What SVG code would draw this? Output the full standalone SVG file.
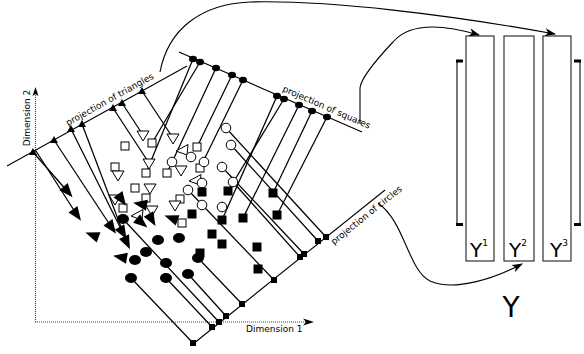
<svg xmlns="http://www.w3.org/2000/svg" width="584" height="354" viewBox="0 0 584 354">
<style>
.ln{stroke:#000;stroke-width:1.25;fill:none}
.ax{stroke:#000;stroke-width:1.1;fill:none}
.dot{stroke:#444;stroke-width:1.2;stroke-dasharray:1 1;fill:none}
.cv{stroke:#000;stroke-width:1.1;fill:none}
.osq{fill:#fff;stroke:#000;stroke-width:1}
.ocir{fill:#fff;stroke:#000;stroke-width:1}
.otri{fill:#fff;stroke:#000;stroke-width:1}
.f{fill:#000}
.lab{font-family:"DejaVu Sans",sans-serif;font-size:9px;fill:#000}
.box{fill:#fff;stroke:#333;stroke-width:1.2}
.br{stroke:#777;stroke-width:2;fill:none}
.Y{font-family:"DejaVu Sans",sans-serif;font-size:20px;fill:#000}
.sup{font-size:9px}
</style>
<defs>
<marker id="ah" markerWidth="12" markerHeight="8" refX="10" refY="4" orient="auto" markerUnits="userSpaceOnUse"><path d="M0,0 L11,4 L0,8 L3,4 z" fill="#000"/></marker>
<rect id="osq" x="-4" y="-4" width="8" height="8" class="osq"/>
<rect id="fsq" x="-4.5" y="-4.5" width="9" height="9" class="f"/>
<rect id="msq" x="-3" y="-3" width="6" height="6" class="f"/>
<circle id="ocir" r="4.8" class="ocir"/>
<ellipse id="fcir" rx="6" ry="5" class="f"/>
<ellipse id="mdot" rx="4" ry="3.3" class="f"/>
<polygon id="otri" points="-6,-4 6,-4 0,6" class="otri"/>
<polygon id="otriL" points="6,-5.5 5,5 -6,1" class="otri"/>
<polygon id="ftri" points="-7,-5.5 7,0 -7,5.5" class="f"/>
<polygon id="mtri" points="-4,3 4,3 0,-4" class="f"/>
</defs>

<g id="axes">
<line class="dot" x1="35.5" y1="322" x2="35.5" y2="94"/>
<polygon class="f" points="35.5,87 32.5,96 35.5,94 38.5,96"/>
<line class="dot" x1="35" y1="322" x2="306" y2="322"/>
<path class="f" d="M314,322 L303,318.5 L306,322 L303,325.5 z"/>
<text class="lab" x="246" y="332">Dimension 1</text>
<text class="lab" x="29.5" y="118" text-anchor="middle" transform="rotate(-90 29.5 118)">Dimension 2</text>
</g>

<g id="projection-lines">
<line class="ln" x1="33" y1="152" x2="68" y2="192"/>
<line class="ln" x1="36" y1="151" x2="77" y2="215"/>
<line class="ln" x1="54" y1="140" x2="112" y2="228"/>
<line class="ln" x1="71" y1="129" x2="123" y2="233"/>
<line class="ln" x1="82" y1="124" x2="127" y2="243"/>
<line class="ln" x1="113" y1="108" x2="149" y2="163"/>
<line class="ln" x1="122" y1="103" x2="143" y2="135"/>
<line class="ln" x1="142" y1="91" x2="173" y2="138"/>
<line class="ln" x1="193" y1="59" x2="146" y2="173"/>
<line class="ln" x1="200" y1="62" x2="152" y2="143"/>
<line class="ln" x1="216" y1="68" x2="167" y2="173"/>
<line class="ln" x1="232" y1="75" x2="197" y2="147"/>
<line class="ln" x1="243" y1="80" x2="200" y2="168"/>
<line class="ln" x1="277" y1="96" x2="222" y2="220"/>
<line class="ln" x1="284" y1="99" x2="228" y2="191"/>
<line class="ln" x1="299" y1="105" x2="243" y2="218"/>
<line class="ln" x1="312" y1="111" x2="273" y2="193"/>
<line class="ln" x1="327" y1="117" x2="277" y2="215"/>
<line class="ln" x1="226" y1="128" x2="326" y2="237"/>
<line class="ln" x1="231" y1="145" x2="318" y2="241"/>
<line class="ln" x1="222" y1="167" x2="304" y2="254"/>
<line class="ln" x1="233" y1="182" x2="300" y2="257"/>
<line class="ln" x1="188" y1="190" x2="274" y2="280"/>
<line class="ln" x1="198" y1="258" x2="242" y2="304"/>
<line class="ln" x1="188" y1="274" x2="226" y2="316"/>
<line class="ln" x1="123" y1="219" x2="219" y2="322"/>
<line class="ln" x1="166" y1="278" x2="212" y2="327"/>
<line class="ln" x1="131" y1="278" x2="193" y2="343"/>
</g>

<g id="axis-triangles">
<line class="ax" x1="7" y1="166" x2="187" y2="66"/>
<use href="#mtri" x="33" y="152"/><use href="#mtri" x="54" y="140"/><use href="#mtri" x="71" y="129"/><use href="#mtri" x="82" y="124"/><use href="#mtri" x="113" y="108"/><use href="#mtri" x="122" y="103"/><use href="#mtri" x="142" y="91"/>
<text class="lab" x="68" y="126" transform="rotate(-29 68 126)">projection of triangles</text>
</g>
<g id="axis-squares">
<line class="ax" x1="179" y1="52" x2="362" y2="132"/>
<use href="#mdot" x="193" y="59"/><use href="#mdot" x="200" y="62"/><use href="#mdot" x="216" y="68"/><use href="#mdot" x="232" y="75"/><use href="#mdot" x="243" y="80"/><use href="#mdot" x="277" y="96"/><use href="#mdot" x="284" y="99"/><use href="#mdot" x="299" y="105"/><use href="#mdot" x="312" y="111"/><use href="#mdot" x="327" y="117"/>
<text class="lab" x="282" y="91" transform="rotate(23.6 282 91)">projection of squares</text>
</g>
<g id="axis-circles">
<line class="ax" x1="193" y1="344" x2="385" y2="190"/>
<use href="#msq" x="193" y="343"/><use href="#msq" x="212" y="327"/><use href="#msq" x="219" y="322"/><use href="#msq" x="226" y="316"/><use href="#msq" x="242" y="304"/><use href="#msq" x="274" y="280"/><use href="#msq" x="300" y="257"/><use href="#msq" x="304" y="254"/><use href="#msq" x="318" y="241"/><use href="#msq" x="326" y="237"/>
<text class="lab" x="334" y="245" transform="rotate(-38.7 334 245)">projection of circles</text>
</g>

<g id="open-squares">
<use href="#osq" x="125" y="146"/><use href="#osq" x="152" y="143"/><use href="#osq" x="197" y="147"/><use href="#osq" x="115" y="167"/><use href="#osq" x="146" y="173"/><use href="#osq" x="167" y="173"/><use href="#osq" x="200" y="168"/><use href="#osq" x="135" y="188"/><use href="#osq" x="146" y="198"/><use href="#osq" x="123" y="208"/><use href="#osq" x="180" y="199"/><use href="#osq" x="182" y="223"/>
</g>
<g id="open-triangles">
<use href="#otri" x="143" y="135"/><use href="#otri" x="173" y="138"/><use href="#otriL" x="182" y="150"/><use href="#otri" x="181" y="170"/><use href="#otri" x="149" y="163"/><use href="#otri" x="118" y="175"/><use href="#otri" x="150" y="188"/><use href="#otri" x="115" y="199"/><use href="#otriL" x="195" y="180"/><use href="#otri" x="152" y="210"/><use href="#otri" x="175" y="205"/><use href="#otriL" x="137" y="215"/>
</g>
<g id="open-circles">
<use href="#ocir" x="226" y="128"/><use href="#ocir" x="231" y="145"/><use href="#ocir" x="222" y="167"/><use href="#ocir" x="204" y="162"/><use href="#ocir" x="191" y="157"/><use href="#ocir" x="172" y="162"/><use href="#ocir" x="233" y="182"/><use href="#ocir" x="202" y="183"/><use href="#ocir" x="188" y="190"/><use href="#ocir" x="202" y="205"/><use href="#ocir" x="222" y="207"/>
</g>
<g id="filled-squares">
<use href="#fsq" x="202" y="192"/><use href="#fsq" x="228" y="191"/><use href="#fsq" x="273" y="193"/><use href="#fsq" x="192" y="214"/><use href="#fsq" x="222" y="220"/><use href="#fsq" x="243" y="218"/><use href="#fsq" x="277" y="215"/><use href="#fsq" x="212" y="234"/><use href="#fsq" x="222" y="244"/><use href="#fsq" x="257" y="247"/><use href="#fsq" x="258" y="269"/><use href="#fsq" x="200" y="253"/>
</g>
<g id="filled-circles">
<use href="#fcir" x="123" y="219"/><use href="#fcir" x="158" y="240"/><use href="#fcir" x="179" y="238"/><use href="#fcir" x="146" y="252"/><use href="#fcir" x="135" y="260"/><use href="#fcir" x="166" y="263"/><use href="#fcir" x="131" y="278"/><use href="#fcir" x="166" y="278"/><use href="#fcir" x="188" y="274"/><use href="#fcir" x="198" y="258"/>
</g>
<g id="filled-triangles">
<use href="#ftri" transform="translate(68 192) rotate(50)"/>
<use href="#ftri" transform="translate(77 215) rotate(55)"/>
<use href="#ftri" transform="translate(92 235) rotate(200)"/>
<use href="#ftri" transform="translate(112 228) rotate(55)"/>
<use href="#ftri" transform="translate(123 233) rotate(60)"/>
<use href="#ftri" transform="translate(127 243) rotate(65)"/>
<use href="#ftri" transform="translate(120 257) rotate(190)"/>
<use href="#ftri" transform="translate(122 200) rotate(55)"/>
<use href="#ftri" transform="translate(140 204) rotate(190)"/>
<use href="#ftri" transform="translate(142 223) rotate(40)"/>
<use href="#ftri" transform="translate(152 220) rotate(60)"/>
<use href="#ftri" transform="translate(171 218) rotate(200)"/>
</g>

<g id="Y-matrices">
<rect class="box" x="466" y="36" width="28" height="225"/>
<rect class="box" x="504" y="36" width="30" height="225"/>
<rect class="box" x="543" y="36" width="28" height="225"/>
<path class="br" d="M457,61 V225"/>
<rect class="f" x="456" y="59.5" width="7" height="3"/>
<rect class="f" x="456" y="223" width="7" height="3"/>
<path class="br" d="M580,61 V225"/>
<rect class="f" x="574" y="59.5" width="7" height="3"/>
<rect class="f" x="574" y="223" width="7" height="3"/>
<text class="Y" x="470" y="257">Y<tspan class="sup" dy="-11">1</tspan></text>
<text class="Y" x="509" y="257">Y<tspan class="sup" dy="-11">2</tspan></text>
<text class="Y" x="550" y="257">Y<tspan class="sup" dy="-11">3</tspan></text>
<text class="Y" x="511" y="317" text-anchor="middle" style="font-size:28px">Y</text>
</g>

<g id="connectors">
<path class="cv" d="M160,72 C168,30 200,4 250,2 C330,0 450,15 555,34" marker-end="url(#ah)"/>
<path class="cv" d="M360,124 L360,88 Q361,76 393,42 Q415,16 479,35" marker-end="url(#ah)"/>
<path class="cv" d="M378,203 C405,222 408,270 430,281 C455,292 495,278 522,264" marker-end="url(#ah)"/>
</g>
</svg>
